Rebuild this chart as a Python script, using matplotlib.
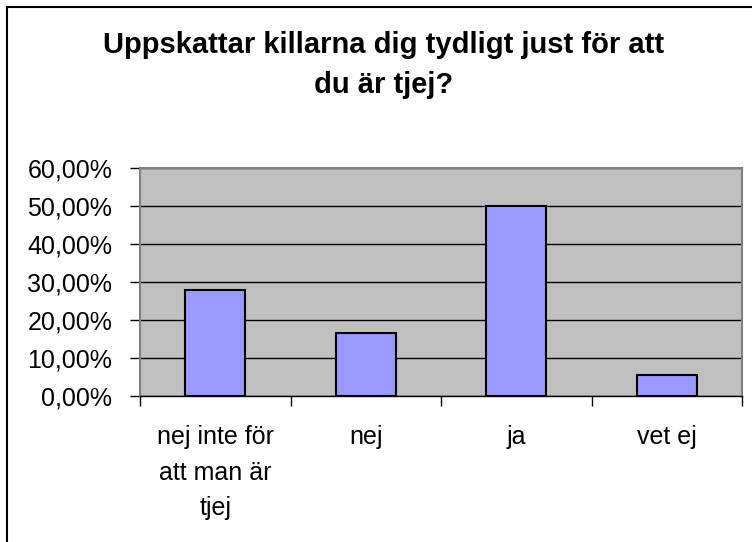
import matplotlib
matplotlib.use('Agg')
import matplotlib.pyplot as plt
from matplotlib.patches import Rectangle
from matplotlib.ticker import FixedLocator, FuncFormatter
import numpy as np

plt.rcParams['font.family'] = ['Liberation Sans', 'DejaVu Sans']

# data (percent of answers)
categories = ['nej inte för\natt man är\ntjej', 'nej', 'ja', 'vet ej']
values = [27.78, 16.67, 50.0, 5.56]
title = 'Uppskattar killarna dig tydligt just för att\ndu är tjej?'
yticks = [0, 10, 20, 30, 40, 50, 60]

W, H = 752, 542
fig = plt.figure(figsize=(W / 100, H / 100), dpi=100)

# chart frame, cut off on the right and bottom like the reference
fig.add_artist(Rectangle((7 / W, -0.1), 1.2, 1.1 - 7 / H, transform=fig.transFigure,
                         fill=False, edgecolor='black', linewidth=1.5))

ax = fig.add_axes([140 / W, (H - 396) / H, 602 / W, 228 / H])
ax.set_facecolor('#C0C0C0')

x = np.arange(len(categories))
ax.bar(x, values, width=0.4, color='#9999FF', edgecolor='black', linewidth=1.5, zorder=3)

ax.set_xlim(-0.5, len(categories) - 0.5)
ax.set_ylim(0, 60)
ax.set_yticks(yticks)
ax.yaxis.set_major_formatter(FuncFormatter(lambda v, p: f'{v:.2f}'.replace('.', ',') + '%'))
ax.grid(True, axis='y', color='black', linewidth=1, zorder=1)
ax.set_axisbelow(True)

# ticks at category edges, labels at centers
ax.xaxis.set_major_locator(FixedLocator(np.arange(-0.5, len(categories), 1.0)))
ax.xaxis.set_major_formatter(FuncFormatter(lambda v, p: ''))
ax.xaxis.set_minor_locator(FixedLocator(x))
ax.set_xticklabels(categories, minor=True, fontsize=18, linespacing=1.6)
ax.tick_params(axis='x', which='major', length=7, width=1, direction='out', color='black')
ax.tick_params(axis='x', which='minor', length=0, pad=21)
ax.tick_params(axis='y', length=7, width=1, direction='out', color='black', labelsize=18, pad=13)

for s in ['top', 'right', 'left']:
    ax.spines[s].set_color('#808080')
    ax.spines[s].set_linewidth(1.5)
ax.spines['bottom'].set_color('black')
ax.spines['bottom'].set_linewidth(1)

fig.text(384 / W, 1 - 65 / H, title, ha='center', va='center', fontsize=21,
         fontweight='bold', linespacing=1.55)

fig.savefig('out.png', dpi=100)
